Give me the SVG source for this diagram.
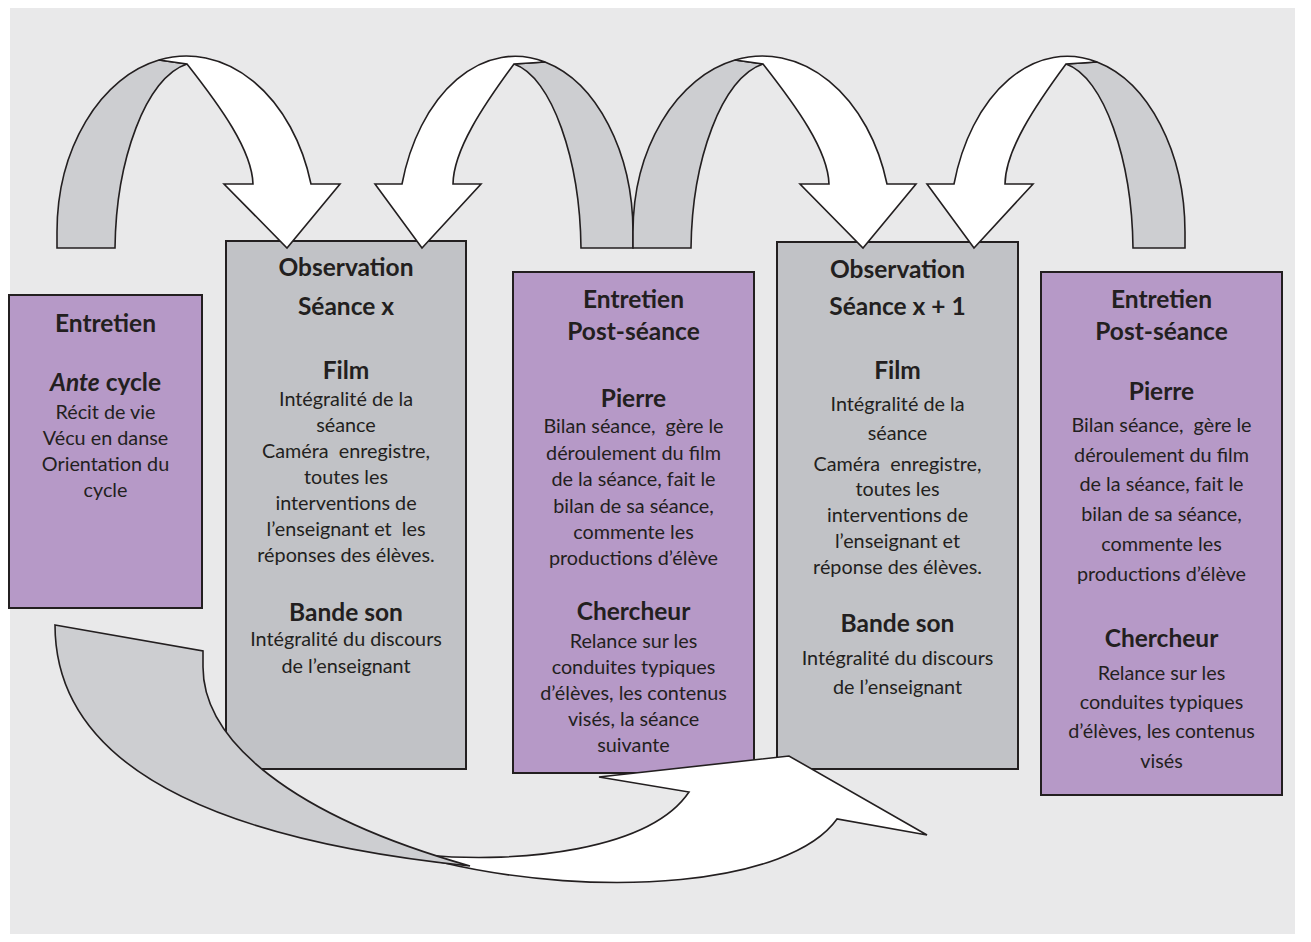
<svg xmlns="http://www.w3.org/2000/svg" width="1311" height="942" viewBox="0 0 1311 942">
<style>
.bg{fill:#e9e9ea}
.purple{fill:#b699c7;stroke:#231f20;stroke-width:2}
.grey{fill:#c1c2c6;stroke:#231f20;stroke-width:2}
.rib{fill:#cdced1;stroke:#231f20;stroke-width:1.6;stroke-linejoin:miter}
.wh{fill:#ffffff;stroke:#231f20;stroke-width:1.6;stroke-linejoin:miter}
text{font-family:Lato,"Open Sans","Liberation Sans",sans-serif;fill:#231f20;text-anchor:middle;white-space:pre}
.t{font-size:24.5px;font-weight:700}
.b{font-size:19.8px}
</style>
<rect class="bg" x="10" y="8" width="1285" height="926"/>

<g id="node-entretien-ante">
<rect class="purple" x="9" y="295" width="193" height="313"/>
<text class="t" x="105.5" y="332">Entretien</text>
<text class="t" x="105.5" y="391"><tspan font-style="italic">Ante</tspan> cycle</text>
<text class="b" x="105.5" y="418.5">Récit de vie</text>
<text class="b" x="105.5" y="444.5">Vécu en danse</text>
<text class="b" x="105.5" y="470.5">Orientation du</text>
<text class="b" x="105.5" y="496.5">cycle</text>
</g>

<g id="node-observation-x">
<rect class="grey" x="226" y="241" width="240" height="528"/>
<text class="t" x="346" y="276">Observation</text>
<text class="t" x="346" y="315">Séance x</text>
<text class="t" x="346" y="379">Film</text>
<text class="b" x="346" y="405.5">Intégralité de la</text>
<text class="b" x="346" y="431.5">séance</text>
<text class="b" x="346" y="457.5">Caméra  enregistre,</text>
<text class="b" x="346" y="483.5">toutes les</text>
<text class="b" x="346" y="509.5">interventions de</text>
<text class="b" x="346" y="536">l’enseignant et  les</text>
<text class="b" x="346" y="562">réponses des élèves.</text>
<text class="t" x="346" y="620.5">Bande son</text>
<text class="b" x="346" y="646">Intégralité du discours</text>
<text class="b" x="346" y="672.5">de l’enseignant</text>
</g>

<g id="node-entretien-post-1">
<rect class="purple" x="513" y="272" width="241" height="501"/>
<text class="t" x="633.5" y="307.5">Entretien</text>
<text class="t" x="633.5" y="340">Post-séance</text>
<text class="t" x="633.5" y="406.5">Pierre</text>
<text class="b" x="633.5" y="433">Bilan séance,  gère le</text>
<text class="b" x="633.5" y="459.5">déroulement du film</text>
<text class="b" x="633.5" y="486">de la séance, fait le</text>
<text class="b" x="633.5" y="512.5">bilan de sa séance,</text>
<text class="b" x="633.5" y="539">commente les</text>
<text class="b" x="633.5" y="565">productions d’élève</text>
<text class="t" x="633.5" y="620">Chercheur</text>
<text class="b" x="633.5" y="648">Relance sur les</text>
<text class="b" x="633.5" y="674">conduites typiques</text>
<text class="b" x="633.5" y="700">d’élèves, les contenus</text>
<text class="b" x="633.5" y="726">visés, la séance</text>
<text class="b" x="633.5" y="752">suivante</text>
</g>

<g id="node-observation-x1">
<rect class="grey" x="777" y="242" width="241" height="527"/>
<text class="t" x="897.5" y="277.5">Observation</text>
<text class="t" x="897.5" y="315">Séance x + 1</text>
<text class="t" x="897.5" y="378.5">Film</text>
<text class="b" x="897.5" y="411">Intégralité de la</text>
<text class="b" x="897.5" y="440">séance</text>
<text class="b" x="897.5" y="470.5">Caméra  enregistre,</text>
<text class="b" x="897.5" y="496">toutes les</text>
<text class="b" x="897.5" y="522">interventions de</text>
<text class="b" x="897.5" y="548">l’enseignant et</text>
<text class="b" x="897.5" y="574">réponse des élèves.</text>
<text class="t" x="897.5" y="632">Bande son</text>
<text class="b" x="897.5" y="665">Intégralité du discours</text>
<text class="b" x="897.5" y="694">de l’enseignant</text>
</g>

<g id="node-entretien-post-2">
<rect class="purple" x="1041" y="272" width="241" height="523"/>
<text class="t" x="1161.5" y="308">Entretien</text>
<text class="t" x="1161.5" y="340">Post-séance</text>
<text class="t" x="1161.5" y="400">Pierre</text>
<text class="b" x="1161.5" y="432">Bilan séance,  gère le</text>
<text class="b" x="1161.5" y="461.5">déroulement du film</text>
<text class="b" x="1161.5" y="491">de la séance, fait le</text>
<text class="b" x="1161.5" y="521">bilan de sa séance,</text>
<text class="b" x="1161.5" y="551">commente les</text>
<text class="b" x="1161.5" y="581">productions d’élève</text>
<text class="t" x="1161.5" y="646.5">Chercheur</text>
<text class="b" x="1161.5" y="679.5">Relance sur les</text>
<text class="b" x="1161.5" y="709">conduites typiques</text>
<text class="b" x="1161.5" y="738">d’élèves, les contenus</text>
<text class="b" x="1161.5" y="767.5">visés</text>
</g>

<g id="connectors">
<defs>
<g id="arcA">
<path class="rib" d="M57,248 L57,232 A129.5,176 0 0 1 159,60 L187,64 C146,77 116,160 115,248 Z"/>
<path class="wh" d="M159,60 A129.5,176 0 0 1 311,184 L340,184 L287,248 L224,184 L253,184 C252,150 220,106 187,64 Z"/>
</g>
<g id="arcB">
<path class="rib" d="M633,248 L633,232 A117.7,176 0 0 0 545,62 L514,64 C552,77 580,160 581,248 Z"/>
<path class="wh" d="M545,62 A117.7,176 0 0 0 402,184 L375,184 L422,248 L481,184 L453,184 C453.5,150 483,106 514,64 Z"/>
</g>
</defs>
<use href="#arcA"/>
<use href="#arcB"/>
<use href="#arcA" transform="translate(576,0)"/>
<use href="#arcB" transform="translate(552,0)"/>
<path class="wh" d="M425,855 C520,864 650,850 689,792 L599,777 L789,756 L927,835 L837,819 C790,885 600,900 440,862 Z"/>
<path class="rib" d="M55,625 L203,651 L203,667 C203,740 290,815 470,866 C200,838 55,760 55,625 Z"/>
</g>
</svg>
